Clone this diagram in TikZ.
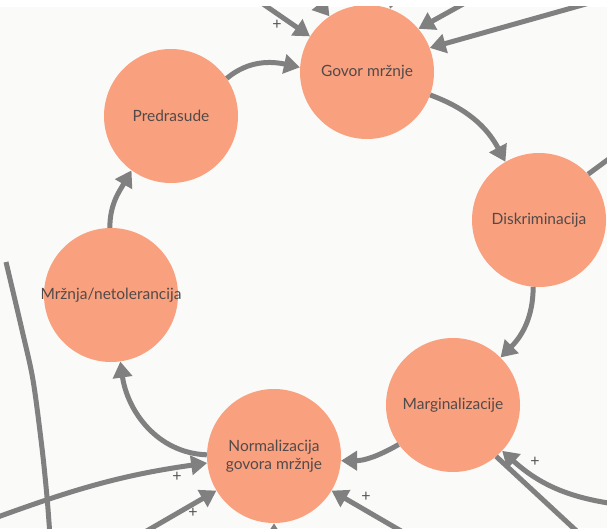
\documentclass[tikz,border=0pt]{standalone}
\usepackage{fontspec}
\setmainfont{Lato}
\usetikzlibrary{arrows.meta}
\definecolor{bg}{HTML}{FAFAF8}
\definecolor{salmon}{HTML}{F9A07F}
\definecolor{arrgray}{HTML}{808080}
\definecolor{txt}{HTML}{524A48}
\definecolor{plusc}{HTML}{555555}
\tikzset{
  circ/.style={circle, fill=salmon, minimum size=134pt, inner sep=0pt},
  lbl/.style={text=txt, font=\fontsize{15.5}{18}\selectfont, align=center},
  arr/.style={draw=arrgray, line width=5pt, -{Triangle[length=16pt,width=19pt]}},
  ln/.style={draw=arrgray, line width=5pt},
  plus/.style={text=plusc, font=\fontsize{16}{16}\selectfont, inner sep=0pt}
}
\begin{document}
\begin{tikzpicture}[x=1pt,y=1pt]
\useasboundingbox (0,0) rectangle (607,528);
\fill[white] (0,0) rectangle (607,528);
\fill[bg] (0,0) rectangle (607,521);
\begin{scope}
\clip (0,0) rectangle (607,521);
% nodes
\node[circ, label={[lbl]center:Govor mržnje}] (G) at (367,456) {};
\node[circ, label={[lbl]center:Predrasude}] (P) at (171,412) {};
\node[circ, label={[lbl]center:Mržnja/netolerancija}] (M) at (111,233) {};
\node[circ, label={[lbl]center:Diskriminacija}] (D) at (539,308) {};
\node[circ, label={[lbl]center:Marginalizacije}] (Mg) at (453,123) {};
\node[circ, label={[lbl]center:Normalizacija\\govora mržnje}] (N) at (274,72) {};
% cycle
\draw[arr] (P.34) to[out=40,in=168] (G.176);
\draw[arr] (G.-20) to[out=-20,in=118] (D.120);
\draw[arr] (D.-95) to[out=-90,in=45] (Mg.45);
\draw[arr] (Mg.-144) to[out=-150,in=0] (N.-4);
\draw[arr] (N.179) to[out=178,in=-82] (M.-82);
\draw[arr] (M.91) to[out=90,in=-120] (P.-126);
% external connectors
\coordinate (a0) at (250,533);
\draw[arr] (a0) -- (G.148);
\node[plus] (pa) at (277,503) {+};
\coordinate (b0) at (303,545);
\draw[arr] (b0) -- (G.124);
\coordinate (c0) at (402,560);
\draw[arr] (c0) -- (G.70);
\coordinate (d0) at (492,540);
\draw[arr] (d0) -- (G.40);
\coordinate (e0) at (625,535);
\draw[arr] (e0) -- (G.21);
\coordinate (f1) at (625,381);
\draw[ln] (D.43) -- (f1);
\draw[ln] plot[smooth] coordinates {(6,266) (22,198) (33,148) (42,80) (47,31) (50,-8)};
\coordinate (h0) at (-5,10);
\draw[arr] (h0) to[out=20,in=188] (N.186);
\node[plus] (ph) at (177,51) {+};
\coordinate (i0) at (138,-8);
\draw[arr] (i0) -- (N.211);
\node[plus] (pi) at (193,15) {+};
\coordinate (j0) at (274,-30);
\draw[arr] (j0) -- (N.270);
\coordinate (k0) at (408,-7);
\draw[arr] (k0) -- (N.-31);
\node[plus] (pk) at (366,31) {+};
\coordinate (l0) at (615,24);
\draw[arr] (l0) to[out=172,in=-42] (Mg.-43);
\node[plus] (pl) at (535,66) {+};
\coordinate (m1) at (582,-8);
\draw[ln] (Mg.-50) -- (m1);
\end{scope}
\end{tikzpicture}
\end{document}
